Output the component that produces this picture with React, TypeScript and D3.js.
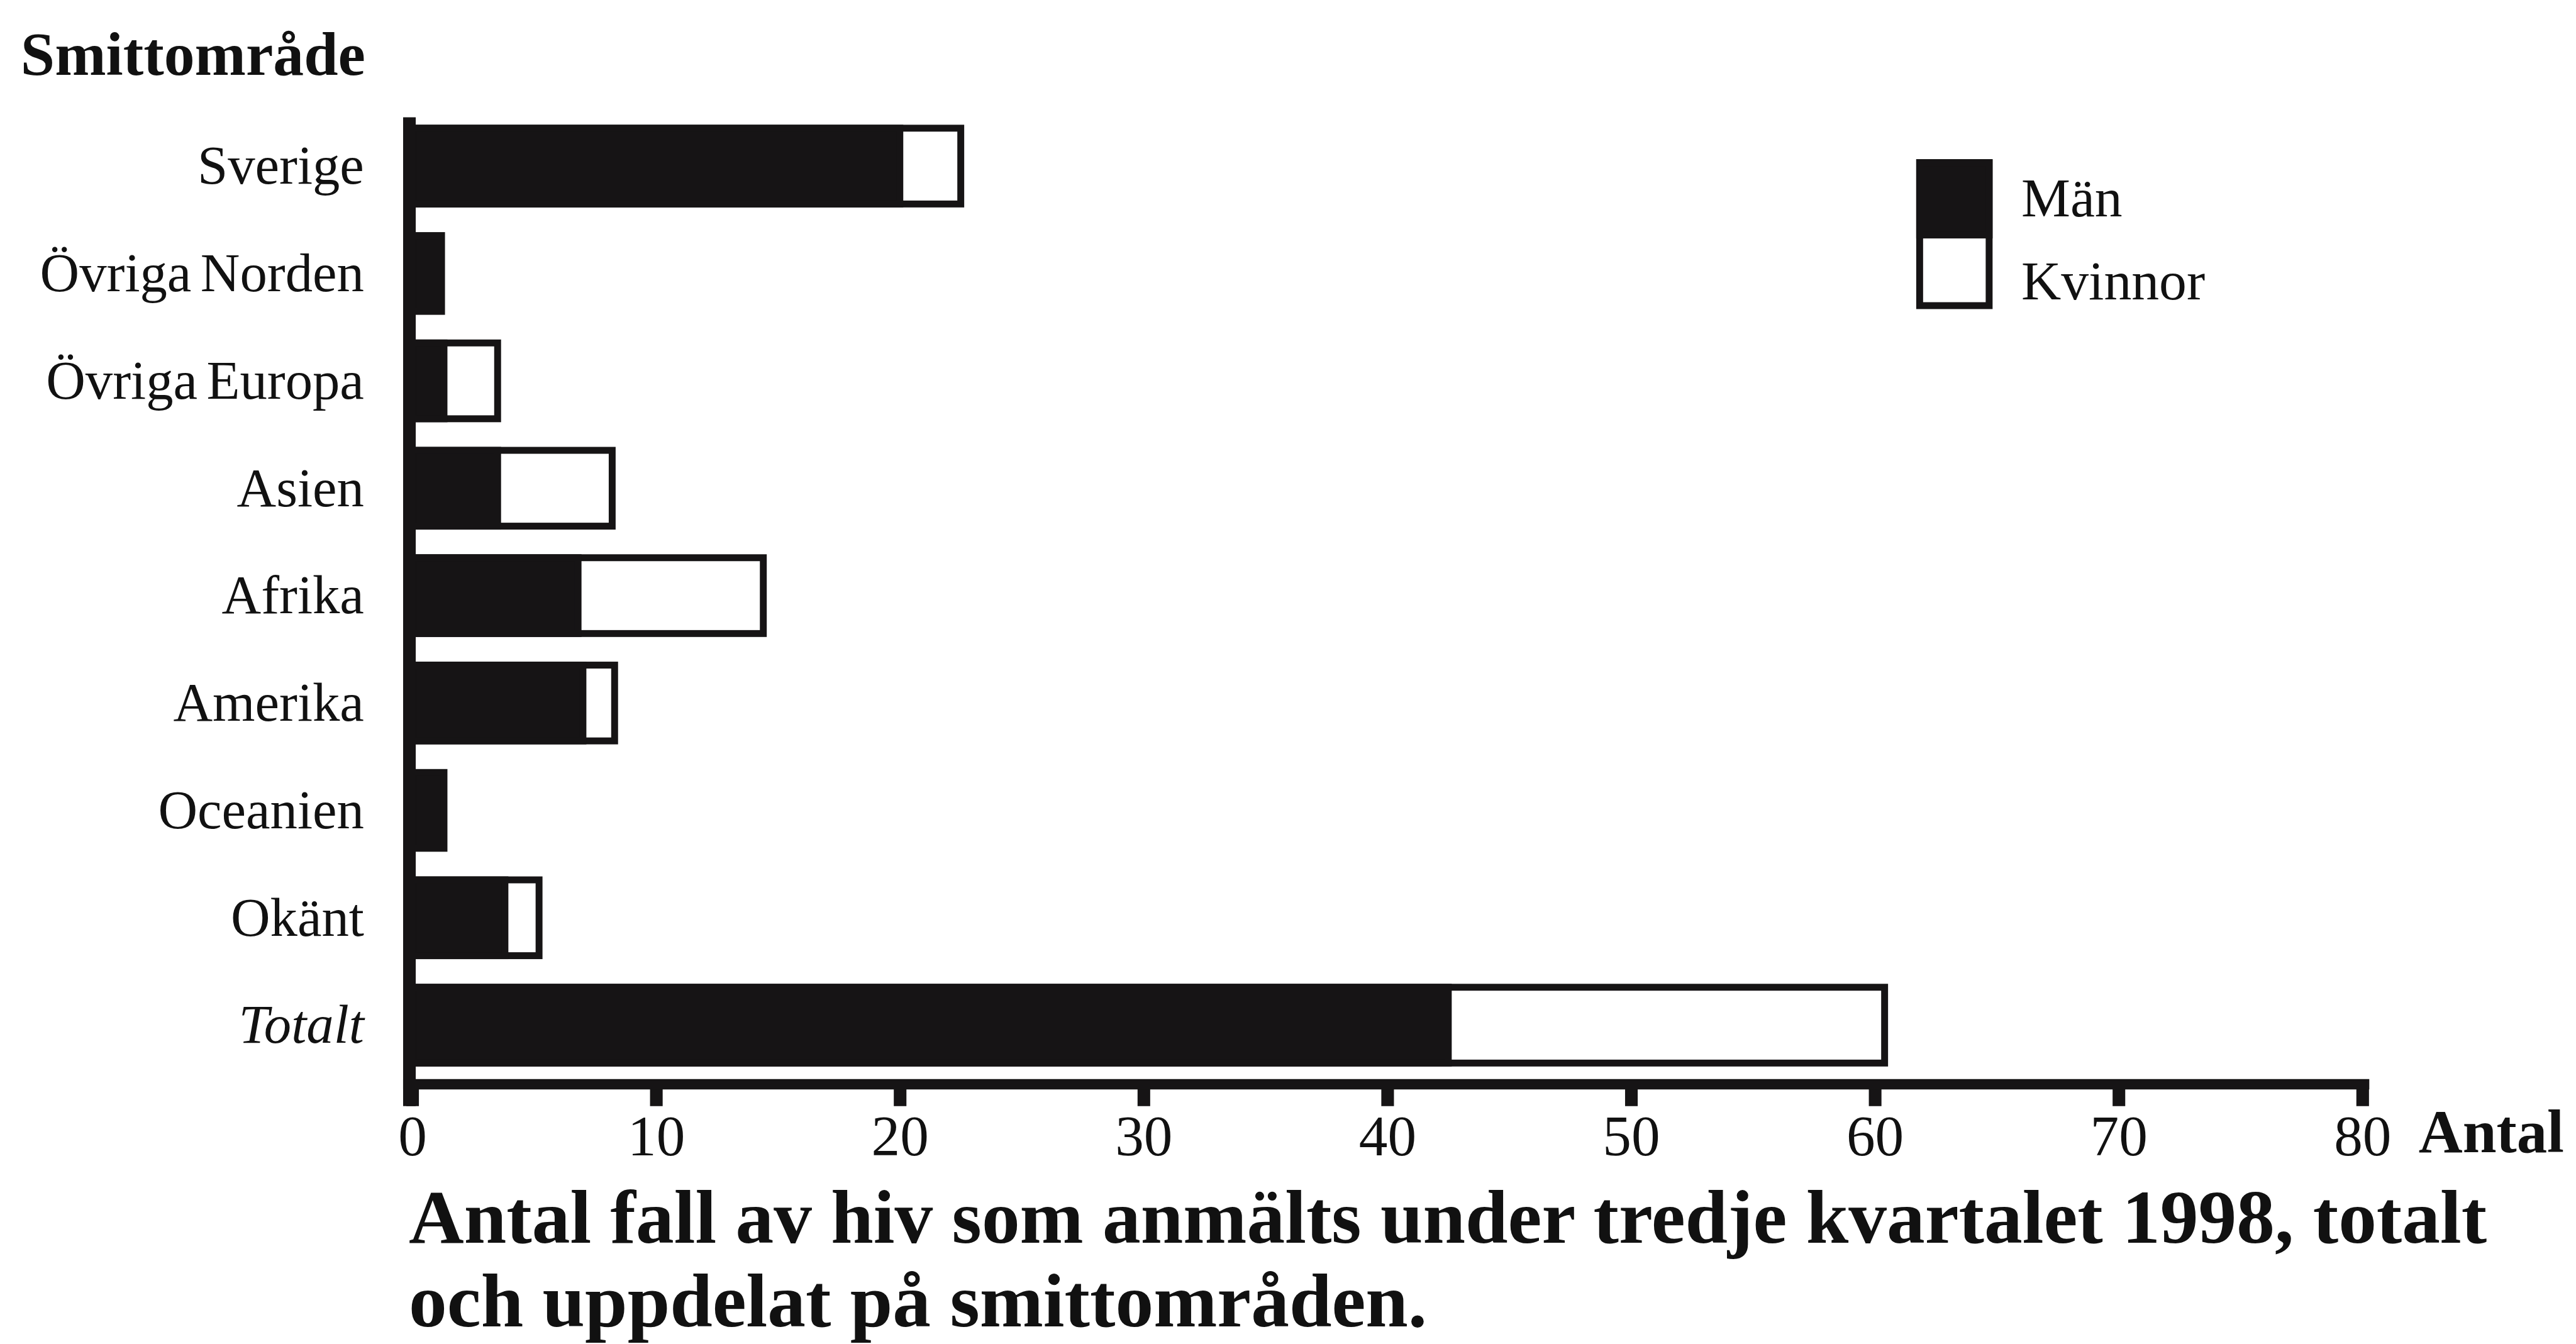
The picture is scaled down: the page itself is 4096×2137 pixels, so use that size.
import { useEffect, useRef } from 'react'
import * as d3 from 'd3'

// values (antal fall)
const regions = ['Sverige', 'Övriga Norden', 'Övriga Europa', 'Asien', 'Afrika', 'Amerika', 'Oceanien', 'Okänt', 'Totalt']
const men = [20, 1.2, 1.3, 3.5, 6.8, 7, 1.3, 3.8, 42.5]
const women = [2.5, 0, 2.2, 4.7, 7.6, 1.3, 0, 1.4, 17.9]
const xTicks = [0, 10, 20, 30, 40, 50, 60, 70, 80]
const legendLabels = ['Män', 'Kvinnor']
const titleLines = [
  'Antal fall av hiv som anmälts under tredje kvartalet 1998, totalt',
  'och uppdelat på smittområden.'
]

export default function App() {
  const ref = useRef<SVGSVGElement | null>(null)

  useEffect(() => {
    draw()
  }, [])

  const draw = () => {
    // work in the reference's own pixel units, the viewBox scales it down
    const W = 4486
    const H = 2340
    const font = '"Liberation Serif", "Times New Roman", serif'

    const svg = d3.select(ref.current)
    svg.selectAll('*').remove()
    svg.attr('viewBox', `0 0 ${W} ${H}`)

    const x = d3.scaleLinear().domain([0, 80]).range([718, 4114])
    const y = d3.scaleBand()
      .domain(regions)
      .range([289 - 187 / 2, 1785 + 187 / 2])
      .paddingInner(0.294)
      .paddingOuter(0.147)

    const sw = 12
    const axisY = 1888

    // bars
    const rows = regions.map((r, i) => ({ r, m: men[i], k: women[i] }))
    const g = svg.append('g')
    g.selectAll('rect.total')
      .data(rows.filter(d => d.k > 0))
      .join('rect')
      .attr('x', d => x(0))
      .attr('y', d => y(d.r)!)
      .attr('width', d => x(d.m + d.k) - x(0))
      .attr('height', y.bandwidth())
      .attr('fill', '#fff')
      .attr('stroke', '#161415')
      .attr('stroke-width', sw)
    g.selectAll('rect.men')
      .data(rows)
      .join('rect')
      .attr('x', d => x(0))
      .attr('y', d => y(d.r)!)
      .attr('width', d => x(d.m) - x(0))
      .attr('height', y.bandwidth())
      .attr('fill', '#161415')
      .attr('stroke', '#161415')
      .attr('stroke-width', sw)

    // category labels
    svg.append('g')
      .selectAll('text')
      .data(regions)
      .join('text')
      .attr('x', 634)
      .attr('y', d => y(d)! + y.bandwidth() / 2 + 31)
      .attr('text-anchor', 'end')
      .attr('font-family', font)
      .attr('font-size', 95)
      .attr('word-spacing', -8)
      .attr('font-style', d => (d === 'Totalt' ? 'italic' : 'normal'))
      .attr('fill', '#111')
      .text(d => d)

    svg.append('text')
      .attr('x', 36)
      .attr('y', 130)
      .attr('font-family', font)
      .attr('font-size', 107)
      .attr('font-weight', 'bold')
      .attr('fill', '#111')
      .text('Smittområde')

    // x axis
    const xAxis = d3.axisBottom(x).tickValues(xTicks).tickSize(38).tickSizeOuter(0)
    const ax = svg.append('g')
      .attr('transform', `translate(0, ${axisY})`)
      .call(xAxis)
    ax.select('.domain').remove()
    ax.selectAll('.tick line').attr('stroke', '#161415').attr('stroke-width', 22)
    ax.selectAll('.tick text')
      .attr('y', 124)
      .attr('dy', 0)
      .attr('fill', '#111')
      .attr('font-family', font)
      .attr('font-size', 100)

    svg.append('line')
      .attr('x1', 702).attr('x2', x(80) + 12)
      .attr('y1', axisY).attr('y2', axisY)
      .attr('stroke', '#161415')
      .attr('stroke-width', 18)
    svg.append('line')
      .attr('x1', 713).attr('x2', 713)
      .attr('y1', 204).attr('y2', axisY + 38)
      .attr('stroke', '#161415')
      .attr('stroke-width', 22)

    svg.append('text')
      .attr('x', 4212)
      .attr('y', 2006)
      .attr('font-family', font)
      .attr('font-size', 106)
      .attr('font-weight', 'bold')
      .attr('fill', '#111')
      .text('Antal')

    // legend
    const lg = svg.append('g')
    lg.append('rect')
      .attr('x', 3343).attr('y', 283)
      .attr('width', 121).attr('height', 249)
      .attr('fill', '#fff').attr('stroke', '#161415').attr('stroke-width', sw)
    lg.append('rect')
      .attr('x', 3343).attr('y', 283)
      .attr('width', 121).attr('height', 126)
      .attr('fill', '#161415').attr('stroke', '#161415').attr('stroke-width', sw)
    lg.selectAll('text')
      .data(legendLabels)
      .join('text')
      .attr('x', 3520)
      .attr('y', (d, i) => 376 + i * 145)
      .attr('font-family', font)
      .attr('font-size', 96)
      .attr('fill', '#111')
      .text(d => d)

    // caption
    svg.append('g')
      .selectAll('text')
      .data(titleLines)
      .join('text')
      .attr('x', 712)
      .attr('y', (d, i) => 2164 + i * 146)
      .attr('font-family', font)
      .attr('font-size', 133)
      .attr('font-weight', 'bold')
      .attr('fill', '#111')
      .text(d => d)
  }

  return (
    <svg
      ref={ref}
      width={4096}
      height={2137}
      style={{ position: 'absolute', left: 0, top: 0, display: 'block', background: '#fff' }}
    />
  )
}
